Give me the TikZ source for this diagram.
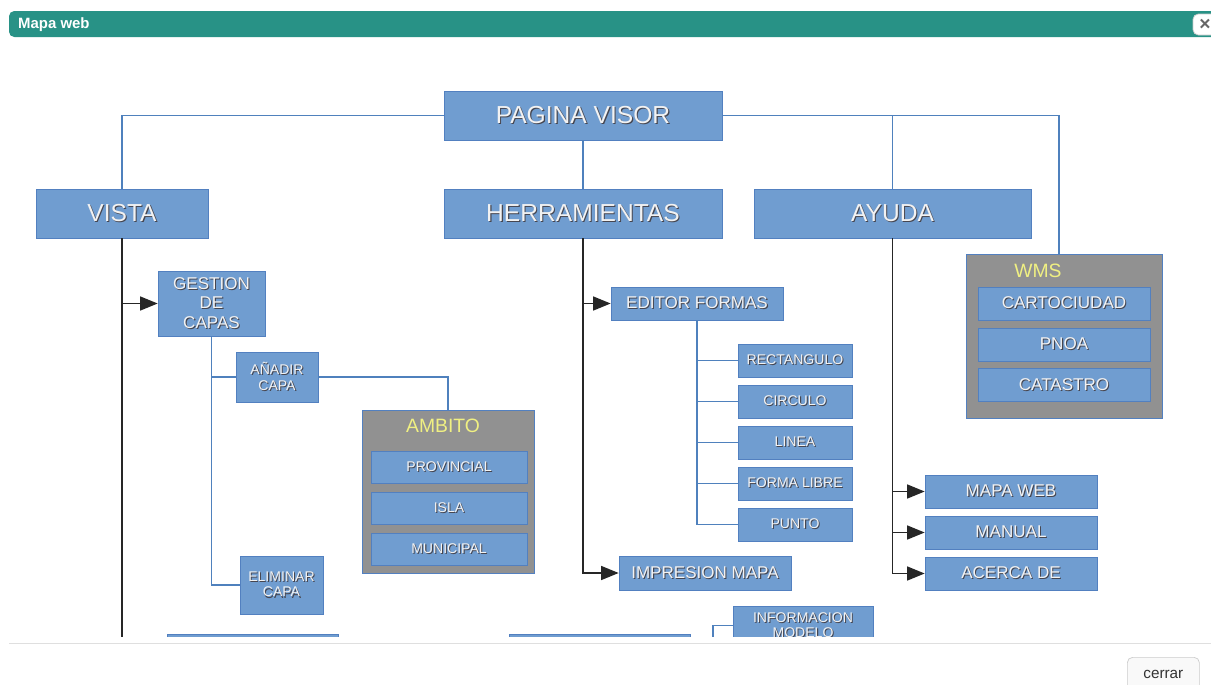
\documentclass[tikz,border=0pt]{standalone}
\usepackage{fontspec}
\setmainfont{Liberation Sans}
\usetikzlibrary{arrows.meta}

\definecolor{cajaazul}{RGB}{112,157,208}
\definecolor{bordeazul}{RGB}{82,128,192}
\definecolor{lineaazul}{RGB}{79,129,189}
\definecolor{grisgrupo}{RGB}{145,145,145}
\definecolor{amarillo}{RGB}{240,240,130}
\definecolor{sombra}{RGB}{70,70,80}
\definecolor{verdetitulo}{RGB}{40,146,134}
\newcommand\shtxt[1]{\rlap{\kern0.6pt\raisebox{-0.6pt}{\textcolor{sombra}{#1}}}#1}

\begin{document}
\begin{tikzpicture}[x=0.02cm,y=-0.02cm,
  caja/.style={draw=bordeazul,fill=cajaazul,text=white!95!black,inner sep=0pt,align=center},
  sz/.style 2 args={minimum width=#1*0.02cm,minimum height=#2*0.02cm},
  grande/.style={font=\fontsize{14}{16}\selectfont},
  medio/.style={font=\fontsize{9.7}{11}\selectfont},
  chico/.style={font=\fontsize{8}{8.8}\selectfont},
  grupo/.style={draw=bordeazul,fill=grisgrupo,inner sep=0pt},
  titgrupo/.style={text=amarillo,font=\fontsize{11}{12}\selectfont},
  rama/.style={draw=lineaazul,line width=0.6pt},
  tronco/.style={draw=black!85,line width=0.8pt},
  flecha/.style={tronco,-{Triangle[length=10pt,width=8pt]}}]
\useasboundingbox[fill=white] (0,0) rectangle (1211,684);

\fill[verdetitulo,rounded corners=3pt] (9,11) rectangle (1230,37);
\node[anchor=west,text=white,font=\bfseries\fontsize{8.5}{10}\selectfont] (titulo) at (12,25) {Mapa web};
\draw[gray!40,fill=white,rounded corners=3pt] (1193,14) rectangle (1225,35);
\node[text=black!60,font=\bfseries\fontsize{11}{11}\selectfont] (xcerrar) at (1205,25) {×};

\begin{scope}
\clip (0,40) rectangle (1211,636);
\node[caja,grande,sz={278}{49}] (pagina) at (583,115.5) {\shtxt{PAGINA VISOR}};
\node[caja,grande,sz={172}{49}] (vista) at (122,213.5) {\shtxt{VISTA}};
\node[caja,grande,sz={278}{49}] (herr) at (583,213.5) {\shtxt{HERRAMIENTAS}};
\node[caja,grande,sz={277}{49}] (ayuda) at (892.5,213.5) {\shtxt{AYUDA}};

\node[caja,medio,sz={107}{65}] (gestion) at (211.5,303.5) {\shtxt{GESTION}\\\shtxt{DE}\\\shtxt{CAPAS}};
\node[caja,chico,sz={82}{50}] (anadir) at (277,377) {\shtxt{AÑADIR}\\\shtxt{CAPA}};
\node[caja,chico,sz={83}{58}] (eliminar) at (281.5,585) {\shtxt{ELIMINAR}\\\shtxt{CAPA}};

\node[grupo,sz={172}{163}] (ambito) at (448,491.5) {};
\node[titgrupo] (ambitotit) at (443,426) {AMBITO};
\node[caja,chico,sz={156}{32}] (provincial) at (449,467) {\shtxt{PROVINCIAL}};
\node[caja,chico,sz={156}{32}] (isla) at (449,508) {\shtxt{ISLA}};
\node[caja,chico,sz={156}{32}] (municipal) at (449,549) {\shtxt{MUNICIPAL}};

\node[caja,medio,sz={172}{33}] (editor) at (697,303.5) {\shtxt{EDITOR FORMAS}};
\node[caja,chico,sz={114}{33}] (rectangulo) at (795,360.5) {\shtxt{RECTANGULO}};
\node[caja,chico,sz={114}{33}] (circulo) at (795,401.5) {\shtxt{CIRCULO}};
\node[caja,chico,sz={114}{33}] (linea) at (795,442.5) {\shtxt{LINEA}};
\node[caja,chico,sz={114}{33}] (formalibre) at (795,483.5) {\shtxt{FORMA LIBRE}};
\node[caja,chico,sz={114}{33}] (punto) at (795,524.5) {\shtxt{PUNTO}};
\node[caja,medio,sz={172}{34}] (impresion) at (705,573) {\shtxt{IMPRESION MAPA}};

\node[caja,medio,sz={172}{33}] (mapaweb) at (1011,491.5) {\shtxt{MAPA WEB}};
\node[caja,medio,sz={172}{33}] (manual) at (1011,532.5) {\shtxt{MANUAL}};
\node[caja,medio,sz={172}{33}] (acerca) at (1011,573.5) {\shtxt{ACERCA DE}};

\node[grupo,sz={196}{164}] (wms) at (1064,336) {};
\node[titgrupo] (wmstit) at (1038,271) {WMS};
\node[caja,medio,sz={172}{33}] (cartociudad) at (1064,303.5) {\shtxt{CARTOCIUDAD}};
\node[caja,medio,sz={172}{33}] (pnoa) at (1064,344.5) {\shtxt{PNOA}};
\node[caja,medio,sz={172}{33}] (catastro) at (1064,385) {\shtxt{CATASTRO}};

\node[caja,sz={171}{46}] (abajoizq) at (252.5,657) {};
\node[caja,sz={181}{46}] (abajomed) at (599.5,657) {};
\node[caja,chico,sz={140}{39}] (info) at (803,625.5) {\shtxt{INFORMACION}\\\shtxt{MODELO}};

\coordinate (wmsin) at (1059,254);
\coordinate (vistafin) at (122,640);
\coordinate (infobajo) at (713,640);

\draw[rama] (pagina.west) -| (vista.north);
\draw[rama] (pagina.south) -- (herr.north);
\draw[rama] (pagina.east) -| (wmsin);
\draw[rama] (ayuda.north |- pagina.east) -- (ayuda.north);

\draw[tronco] (vista.south) -- (vistafin);
\draw[flecha] (vista.south |- gestion.west) -- (gestion.west);
\draw[rama] (gestion.south) |- (eliminar.west);
\draw[rama] (gestion.south |- anadir.west) -- (anadir.west);
\draw[rama] (anadir.east) -| (ambito.north);

\draw[flecha] (herr.south) |- (impresion.west);
\draw[flecha] (herr.south |- editor.west) -- (editor.west);
\draw[rama] (editor.south) |- (punto.west);
\foreach \n in {rectangulo,circulo,linea,formalibre}
  \draw[rama] (editor.south |- \n.west) -- (\n.west);

\draw[flecha] (ayuda.south) |- (acerca.west);
\foreach \n in {mapaweb,manual}
  \draw[flecha] (ayuda.south |- \n.west) -- (\n.west);

\draw[rama] (infobajo) |- (info.west);
\end{scope}

\draw[gray!25,line width=0.6pt] (9,643.5) -- (1211,643.5);
\node[draw=gray!40,fill=gray!5,rounded corners=3pt,anchor=north west,sz={72}{34},text=black!80,font=\fontsize{8.7}{10}\selectfont] (cerrar) at (1127,657) {cerrar};
\end{tikzpicture}
\end{document}
